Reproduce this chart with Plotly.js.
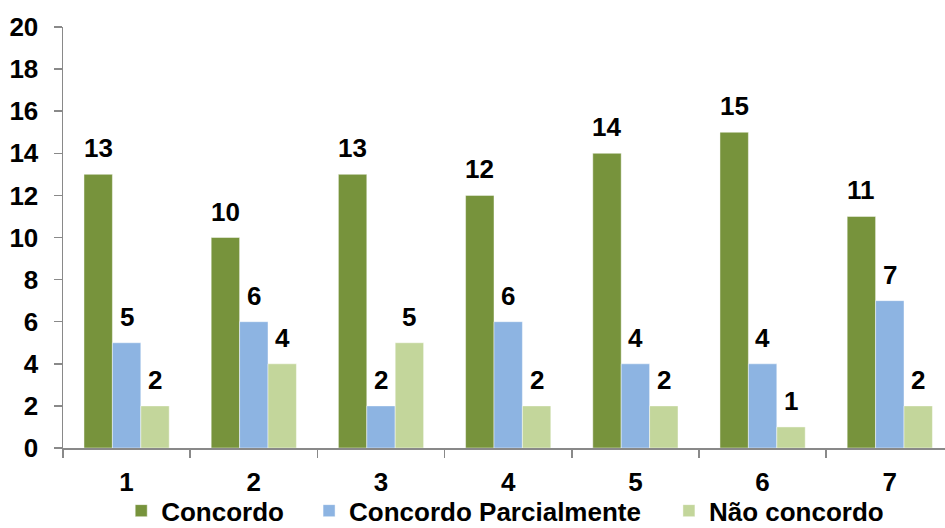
<!DOCTYPE html>
<html>
<head>
<meta charset="utf-8">
<script src="https://cdn.plot.ly/plotly-3.0.1.min.js"></script>
<style>html,body{margin:0;padding:0;background:#fff;}#chart{width:945px;height:528px;}</style>
</head>
<body>
<div id="chart"></div>
<script>
const categories = ['1', '2', '3', '4', '5', '6', '7'];
const seriesNames = ['Concordo', 'Concordo Parcialmente', 'Não concordo'];
const concordo = [13, 10, 13, 12, 14, 15, 11];
const parcialmente = [5, 6, 2, 6, 4, 4, 7];
const naoConcordo = [2, 4, 5, 2, 2, 1, 2];
const yTicks = [0, 2, 4, 6, 8, 10, 12, 14, 16, 18, 20];

const colors = ['#77933C', '#8DB4E2', '#C3D69B'];
const seriesValues = [concordo, parcialmente, naoConcordo];
const font = 'Arial, "Liberation Sans", sans-serif';
const fsize = 26;
const bargap = 0.33;
const barW = (1 - bargap) / 3;
const legendIds = ['legend', 'legend2', 'legend3'];
const legendX = [0.066, 0.279, 0.687];

const traces = seriesValues.map((vals, k) => ({
  type: 'bar',
  name: seriesNames[k],
  legend: legendIds[k],
  x: categories,
  y: vals,
  marker: {color: colors[k], line: {color: 'rgba(255,255,255,0.6)', width: 0.75}},
  hoverinfo: 'x+y'
}));

const annotations = [];
seriesValues.forEach((vals, k) => {
  vals.forEach((v, i) => {
    annotations.push({
      x: i + (k - 1) * barW,
      y: v,
      xref: 'x', yref: 'y',
      text: String(v),
      showarrow: false,
      yshift: 26,
      font: {family: font, size: fsize, color: '#000', weight: 'bold'}
    });
  });
});

const layout = {
  width: 945, height: 528,
  margin: {l: 63, r: 0, t: 27, b: 80, autoexpand: false},
  paper_bgcolor: '#fff', plot_bgcolor: '#fff',
  barmode: 'group', bargap: bargap, bargroupgap: 0,
  showlegend: true,
  xaxis: {
    type: 'category',
    range: [-0.5, 6.434],
    showline: true, linecolor: '#898989', linewidth: 1.5,
    ticks: 'outside', tickson: 'boundaries', ticklen: 8, tickcolor: '#898989', tickwidth: 1.5,
    ticklabelstandoff: 10,
    showgrid: false, zeroline: false,
    tickfont: {family: font, size: fsize, color: '#000', weight: 'bold'}
  },
  yaxis: {
    range: [0, 20],
    tickvals: yTicks,
    showline: true, linecolor: '#898989', linewidth: 1.5,
    ticks: 'outside', ticklen: 8, tickcolor: '#898989', tickwidth: 1.5,
    ticklabelstandoff: 10,
    showgrid: false, zeroline: false,
    tickfont: {family: font, size: fsize, color: '#000', weight: 'bold'}
  },
  annotations: annotations
};

legendIds.forEach((id, k) => {
  layout[id] = {
    orientation: 'h', x: legendX[k], xanchor: 'left', y: -0.149, yanchor: 'middle',
    bgcolor: 'rgba(0,0,0,0)',
    font: {family: font, size: fsize, color: '#000', weight: 'bold'}
  };
});

Plotly.newPlot('chart', traces, layout, {displayModeBar: false, staticPlot: true});
</script>
</body>
</html>
